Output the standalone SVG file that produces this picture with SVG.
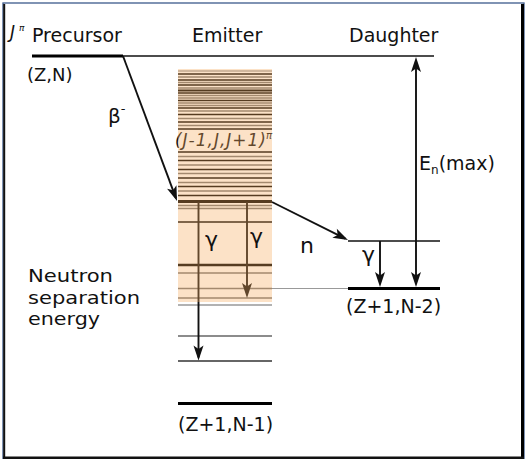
<svg xmlns="http://www.w3.org/2000/svg" width="530" height="459" viewBox="0 0 530 459">
<style>
text{font-family:"DejaVu Sans","Liberation Sans",sans-serif;fill:#111}
.d{stroke:#000;stroke-width:1.3}
.m{stroke:#777;stroke-width:1.4}
.l{stroke:#aaa;stroke-width:1.4}
.arr{stroke:#111;stroke-width:1.9;fill:none;marker-end:url(#ah)}
</style>
<defs>
<marker id="ah" viewBox="-14 -7 18 14" refX="0" refY="0" markerWidth="18" markerHeight="14" markerUnits="userSpaceOnUse" orient="auto-start-reverse">
<path d="M3,0 L-12,-5 L-8.5,0 L-12,5 Z" fill="#111"/>
</marker>
</defs>
<rect x="0" y="0" width="530" height="459" fill="#fff"/>
<g id="frame">
<rect x="3" y="3" width="521" height="458" fill="#fff" stroke="#3c5a8c" stroke-width="1.3"/>
<line x1="4.2" y1="4" x2="4.2" y2="459" stroke="#111" stroke-width="2"/>
<line x1="522.5" y1="4" x2="522.5" y2="459" stroke="#000" stroke-width="3"/>
<line x1="3" y1="457.8" x2="524" y2="457.8" stroke="#111" stroke-width="2.5"/>
</g>
<g id="precursor">
<line x1="32" y1="56" x2="123" y2="56" stroke="#000" stroke-width="3"/>
<line x1="123" y1="56" x2="434" y2="56" stroke="#111" stroke-width="1.3"/>
<text x="10" y="38" font-size="17" font-style="italic">J</text>
<text x="19" y="31" font-size="9" font-style="italic">π</text>
<text x="32" y="42" font-size="19">Precursor</text>
<text x="27" y="81" font-size="18">(Z,N)</text>
</g>
<g id="emitter">
<text x="192" y="42" font-size="19">Emitter</text>
<rect x="178" y="69" width="94" height="233" fill="#fff"/>
<g>
<line class="l" x1="178" y1="71" x2="272" y2="71"/>
<line class="d" x1="178" y1="74" x2="272" y2="74"/>
<line class="m" x1="178" y1="77" x2="272" y2="77"/>
<line class="d" x1="178" y1="80" x2="272" y2="80"/>
<line class="m" x1="178" y1="82.5" x2="272" y2="82.5"/>
<line class="d" x1="178" y1="85" x2="272" y2="85"/>
<line class="m" x1="178" y1="88" x2="272" y2="88"/>
<line stroke="#000" stroke-width="2.2" x1="178" y1="90.5" x2="272" y2="90.5"/>
<line class="d" x1="178" y1="93" x2="272" y2="93"/>
<line class="m" x1="178" y1="95.5" x2="272" y2="95.5"/>
<line class="m" x1="178" y1="98" x2="272" y2="98"/>
<line class="d" x1="178" y1="100.5" x2="272" y2="100.5"/>
<line class="m" x1="178" y1="103" x2="272" y2="103"/>
<line class="m" x1="178" y1="105.5" x2="272" y2="105.5"/>
<line class="d" x1="178" y1="108" x2="272" y2="108"/>
<line class="m" x1="178" y1="111" x2="272" y2="111"/>
<line class="d" x1="178" y1="114.5" x2="272" y2="114.5"/>
<line class="m" x1="178" y1="118.5" x2="272" y2="118.5"/>
<line class="d" x1="178" y1="122" x2="272" y2="122"/>
<line class="m" x1="178" y1="125.5" x2="272" y2="125.5"/>
<line class="d" x1="178" y1="129" x2="272" y2="129"/>
<line class="d" x1="178" y1="152" x2="272" y2="152"/>
<line class="m" x1="178" y1="156.5" x2="272" y2="156.5"/>
<line class="d" x1="178" y1="160.5" x2="272" y2="160.5"/>
<line class="m" x1="178" y1="165" x2="272" y2="165"/>
<line class="d" x1="178" y1="169.5" x2="272" y2="169.5"/>
<line class="m" x1="178" y1="173.5" x2="272" y2="173.5"/>
<line class="d" x1="178" y1="178" x2="272" y2="178"/>
<line class="m" x1="178" y1="182.5" x2="272" y2="182.5"/>
<line class="d" x1="178" y1="186.5" x2="272" y2="186.5"/>
<line class="m" x1="178" y1="191" x2="272" y2="191"/>
<line class="d" x1="178" y1="195.5" x2="272" y2="195.5"/>
<line stroke="#000" stroke-width="3" x1="178" y1="201.5" x2="272" y2="201.5"/>
<line class="m" x1="178" y1="205.5" x2="272" y2="205.5"/>
<line class="m" x1="178" y1="208.5" x2="272" y2="208.5"/>
<line class="d" x1="178" y1="222" x2="272" y2="222"/>
<line stroke="#000" stroke-width="2.6" x1="178" y1="265" x2="272" y2="265"/>
<line class="m" x1="178" y1="273" x2="272" y2="273"/>
<line class="m" x1="178" y1="288.5" x2="272" y2="288.5"/>
<line class="m" x1="178" y1="298" x2="272" y2="298"/>
</g>
<text x="175" y="146" font-size="17" font-style="italic" fill="#222" textLength="91" lengthAdjust="spacing">(J-1,J,J+1)</text>
<text x="266" y="139" font-size="10" font-style="italic" fill="#222">π</text>
<line stroke="#999" stroke-width="1.6" x1="178" y1="305" x2="272" y2="305"/>
<line stroke="#666" stroke-width="1.6" x1="178" y1="336" x2="272" y2="336"/>
<line stroke="#333" stroke-width="1.6" x1="178" y1="361" x2="272" y2="361"/>
<line stroke="#000" stroke-width="3" x1="178" y1="403.5" x2="272" y2="403.5"/>
<text x="178" y="431" font-size="19">(Z+1,N-1)</text>
</g>
<g id="daughter">
<text x="349" y="42" font-size="19">Daughter</text>
<line stroke="#999" stroke-width="1" x1="272" y1="288.5" x2="348" y2="288.5"/>
<line stroke="#111" stroke-width="1.6" x1="348" y1="241" x2="440" y2="241"/>
<line stroke="#000" stroke-width="3.2" x1="348" y1="288.5" x2="440" y2="288.5"/>
<text x="346" y="313" font-size="19">(Z+1,N-2)</text>
</g>
<g id="connectors">
<line class="arr" x1="123" y1="56" x2="175.95" y2="198.2"/>
<line class="arr" x1="272" y1="202" x2="345.3" y2="238.7"/>
<line class="arr" x1="198.5" y1="202" x2="198.5" y2="357.5"/>
<line class="arr" x1="247" y1="202" x2="247" y2="295"/>
<line class="arr" x1="380" y1="241" x2="380" y2="284"/>
<line class="arr" x1="416" y1="60" x2="416" y2="284" marker-start="url(#ah)"/>
</g>
<g id="emitter-band">
<rect x="178" y="69" width="94" height="233" fill="#f7ad5e" opacity="0.35"/>
</g>
<g id="labels">
<text x="108" y="123" font-size="20">β<tspan font-size="13" dy="-10">-</tspan></text>
<text x="205" y="247" font-size="22">γ</text>
<text x="250" y="244" font-size="22">γ</text>
<text x="362" y="262" font-size="22">γ</text>
<text x="300" y="253" font-size="22">n</text>
<text x="419" y="170" font-size="19">E<tspan font-size="12" dy="4">n</tspan><tspan dy="-4">(max)</tspan></text>
<text x="28" y="282" font-size="18" fill="#333" textLength="85" lengthAdjust="spacingAndGlyphs">Neutron</text>
<text x="28" y="303.5" font-size="18" fill="#333" textLength="112" lengthAdjust="spacingAndGlyphs">separation</text>
<text x="28" y="325" font-size="18" fill="#333" textLength="72" lengthAdjust="spacingAndGlyphs">energy</text>
</g>
</svg>
